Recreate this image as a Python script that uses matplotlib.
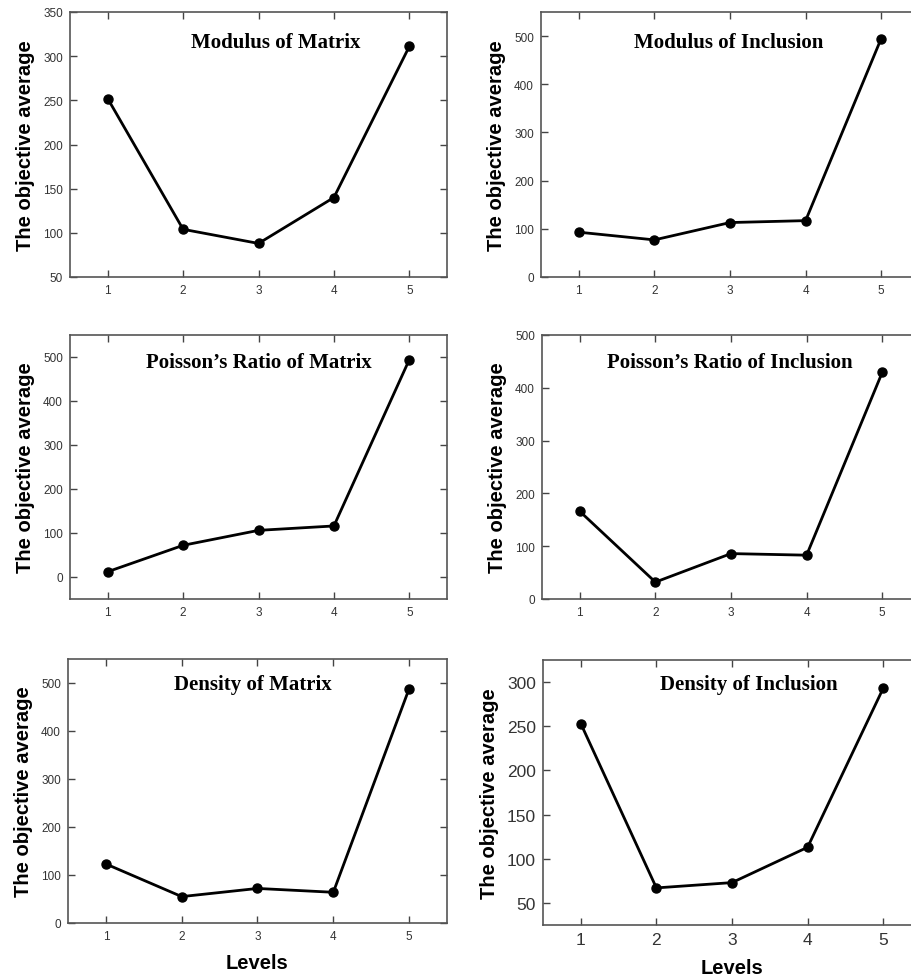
import matplotlib
matplotlib.use("Agg")
import matplotlib.pyplot as plt

levels = [1, 2, 3, 4, 5]

modulus_matrix = [252, 104, 88, 140, 311]
modulus_inclusion = [93, 77, 113, 117, 495]
poisson_matrix = [12, 72, 106, 116, 494]
poisson_inclusion = [166, 32, 86, 83, 429]
density_matrix = [123, 55, 72, 64, 488]
density_inclusion = [253, 67, 73, 113, 293]

titles = ["Modulus of Matrix", "Modulus of Inclusion",
          "Poisson\u2019s Ratio of Matrix", "Poisson\u2019s Ratio of Inclusion",
          "Density of Matrix", "Density of Inclusion"]
series = [modulus_matrix, modulus_inclusion, poisson_matrix,
          poisson_inclusion, density_matrix, density_inclusion]
ylims = [(50, 350), (0, 550), (-50, 550), (0, 500), (0, 550), (25, 325)]
yticks = [range(50, 351, 50), range(0, 501, 100), range(0, 501, 100),
          range(0, 501, 100), range(0, 501, 100), range(50, 301, 50)]

W, H = 912, 979
# panel boxes in pixels: left, top, right, bottom
boxes = [(70, 13, 447, 278), (541, 13, 919, 278),
         (70, 336, 447, 600), (542, 336, 920, 600),
         (68, 660, 447, 924), (543, 661, 921, 926)]
title_pos = [(0.546, 0.887), (0.497, 0.887), (0.50, 0.898),
             (0.497, 0.898), (0.488, 0.905), (0.545, 0.91)]

fig = plt.figure(figsize=(W / 100, H / 100), dpi=100)

for i in range(6):
    l, t, r, b = boxes[i]
    ax = fig.add_axes([l / W, 1 - b / H, (r - l) / W, (b - t) / H])
    ax.plot(levels, series[i], color="black", lw=2, marker="o", ms=6.5)
    ax.set_xlim(0.5, 5.5)
    ax.set_ylim(*ylims[i])
    ax.set_xticks(levels)
    ax.set_yticks(list(yticks[i]))
    fs = 12.5 if i == 5 else 8.5
    ax.tick_params(direction="in", top=True, right=True, length=5,
                   width=1, color="#444444", labelsize=fs,
                   labelcolor="#333333", pad=5)
    for s in ax.spines.values():
        s.set_color("#555555")
        s.set_linewidth(1.2)
    ax.set_ylabel("The objective average", fontsize=14.5, fontweight="bold",
                  family="Liberation Sans", labelpad=6)
    ax.text(title_pos[i][0], title_pos[i][1], titles[i], transform=ax.transAxes,
            ha="center", va="center", fontsize=15, fontweight="bold",
            family="Liberation Serif")
    if i >= 4:
        ax.set_xlabel("Levels", fontsize=14.5, fontweight="bold",
                      family="Liberation Sans", labelpad=8)
    for lab in ax.get_xticklabels() + ax.get_yticklabels():
        lab.set_family("Liberation Sans")

fig.savefig("out.png", dpi=100)
